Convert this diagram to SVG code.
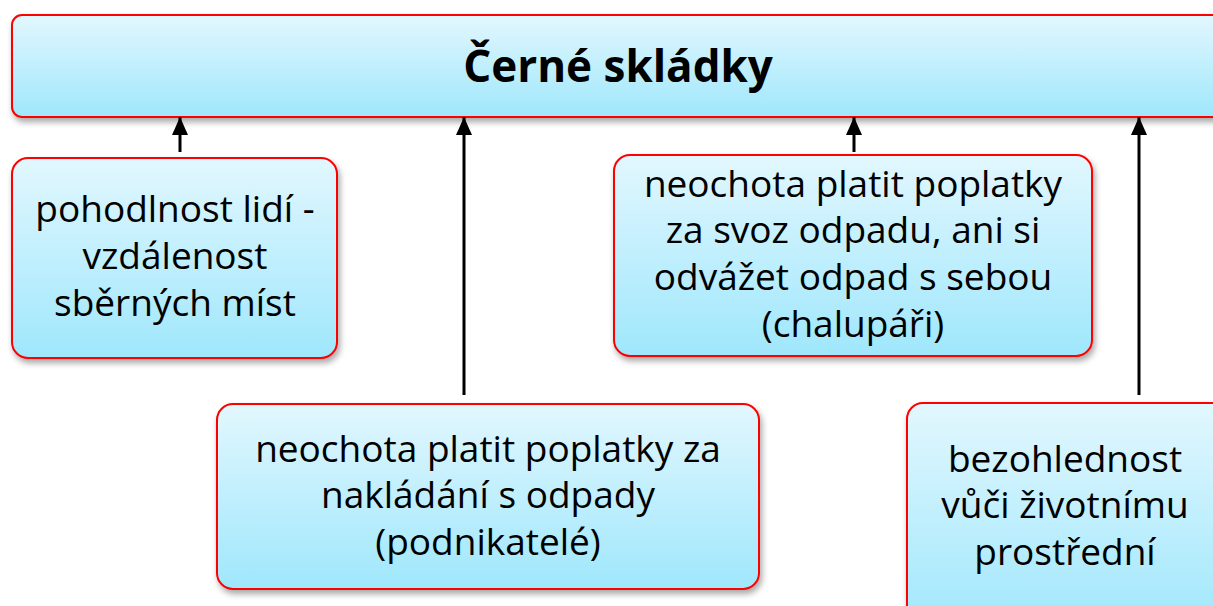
<svg xmlns="http://www.w3.org/2000/svg" width="1213" height="606" viewBox="0 0 1213 606">
<defs>
<linearGradient id="g" x1="0" y1="0" x2="0" y2="1">
<stop offset="0" stop-color="#e2f7fe"/>
<stop offset="1" stop-color="#9fe7fc"/>
</linearGradient>
<filter id="sh" x="-10%" y="-10%" width="130%" height="140%">
<feDropShadow dx="2" dy="4" stdDeviation="3" flood-color="#000" flood-opacity="0.35"/>
</filter>
<marker id="ah" markerWidth="18" markerHeight="16" refX="18" refY="8" orient="auto" markerUnits="userSpaceOnUse" viewBox="0 0 18 16">
<path d="M0 0 L18 8 L0 16 Z" fill="#000"/>
</marker>
</defs>
<style>
.box{fill:url(#g);stroke:#ff0000;stroke-width:2;filter:url(#sh)}
.t{font-family:"Open Sans","Noto Sans",sans-serif;font-size:37px;fill:#000;text-anchor:middle}
.title{font-family:"Open Sans","Noto Sans",sans-serif;font-size:44px;font-weight:bold;fill:#000;text-anchor:middle}
.c{stroke:#000;stroke-width:3;fill:none}
</style>
<g id="top">
<rect class="box" x="12" y="15" width="1220" height="102" rx="10"/>
<text class="title" x="618" y="82">Černé skládky</text>
</g>
<g id="n1">
<rect class="box" x="12" y="158" width="325" height="200" rx="16"/>
<text class="t" x="175" y="222">pohodlnost lidí -</text>
<text class="t" x="175" y="269">vzdálenost</text>
<text class="t" x="175" y="316">sběrných míst</text>
</g>
<g id="n2">
<rect class="box" x="217" y="404" width="542" height="185" rx="16"/>
<text class="t" x="488" y="462">neochota platit poplatky za</text>
<text class="t" x="488" y="508">nakládání s odpady</text>
<text class="t" x="488" y="555">(podnikatelé)</text>
</g>
<g id="n3">
<rect class="box" x="614" y="155" width="478" height="201" rx="16"/>
<text class="t" x="853" y="197">neochota platit poplatky</text>
<text class="t" x="853" y="243">za svoz odpadu, ani si</text>
<text class="t" x="853" y="290">odvážet odpad s sebou</text>
<text class="t" x="853" y="337">(chalupáři)</text>
</g>
<g id="n4">
<rect class="box" x="907" y="403" width="330" height="230" rx="16"/>
<text class="t" x="1065" y="472">bezohlednost</text>
<text class="t" x="1065" y="518">vůči životnímu</text>
<text class="t" x="1065" y="565">prostřední</text>
</g>
<g id="connectors">
<line class="c" x1="180" y1="152" x2="180" y2="117" marker-end="url(#ah)"/>
<line class="c" x1="464" y1="395" x2="464" y2="117" marker-end="url(#ah)"/>
<line class="c" x1="854" y1="152" x2="854" y2="117" marker-end="url(#ah)"/>
<line class="c" x1="1139" y1="395" x2="1139" y2="117" marker-end="url(#ah)"/>
</g>
</svg>
